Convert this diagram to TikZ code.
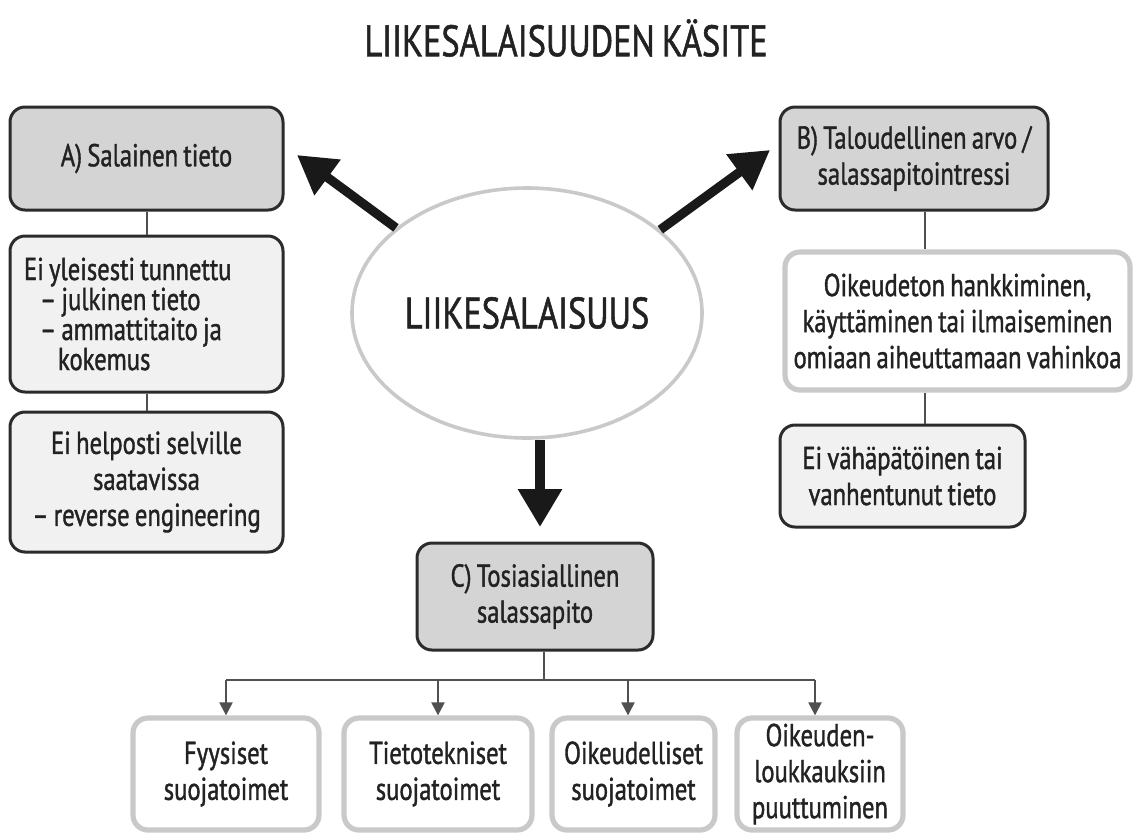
\documentclass[tikz,border=0pt]{standalone}
\usepackage{fontspec}
\setmainfont{PT Sans}[FakeStretch=0.78,FakeBold=1.2,WordSpace=0.8]
\usetikzlibrary{arrows.meta,shapes.geometric,calc}
\definecolor{txt}{HTML}{222222}
\definecolor{darkline}{HTML}{2b2b2b}
\definecolor{lightline}{HTML}{c9c9c9}
\definecolor{grayfill}{HTML}{d4d4d4}
\definecolor{palefill}{HTML}{f1f1f1}
\definecolor{connector}{HTML}{505050}
\newcommand{\boxfont}{\fontsize{15.8}{18}\selectfont}
\begin{document}
\begin{tikzpicture}[x=0.5pt,y=-0.5pt,
  basebox/.style={rounded corners=7.5pt, align=center, inner sep=0pt, font=\boxfont, text=txt},
  graybox/.style={basebox, draw=darkline, line width=1.5pt, fill=grayfill},
  palebox/.style={basebox, draw=darkline, line width=1.5pt, fill=palefill},
  whitebox/.style={basebox, draw=lightline, line width=2.6pt, fill=white},
  thinline/.style={draw=connector, line width=1pt},
  thinarrow/.style={thinline, -{Triangle[length=6.5pt,width=6.5pt]}},
  bigarrow/.style={draw=black!90, line width=4.6pt, -{Triangle[length=19pt,width=21pt]}}]
\useasboundingbox (0,0) rectangle (1133,832);

\node[font=\fontsize{22}{26}\selectfont, text=txt] (title) at (566,38) {LIIKESALAISUUDEN KÄSITE};

\node[ellipse, draw=lightline, line width=1.8pt, fill=white, minimum width=175pt, minimum height=125pt, inner sep=0pt,
      font=\fontsize{22}{26}\selectfont, text=txt] (E) at (527,313) {LIIKESALAISUUS};

% A column
\node[graybox, minimum width=136.5pt, minimum height=51.5pt] (A) at (146.5,158.5) {A) Salainen tieto};
\node[palebox, minimum width=136.5pt, minimum height=78pt, align=flush left, text width=122.5pt,
      font=\fontsize{15.8}{15}\selectfont] (A1) at (146.5,314)
  {Ei yleisesti tunnettu\\\hspace*{8pt}– julkinen tieto\\\hspace*{8pt}– ammattitaito ja\\\hspace*{17pt}kokemus};
\node[palebox, minimum width=136.5pt, minimum height=70pt] (A2) at (146.5,482)
  {Ei helposti selville\\saatavissa\\– reverse engineering};
\draw[thinline] (A.south) -- (A1.north);
\draw[thinline] (A1.south) -- (A2.north);

% B column
\node[graybox, minimum width=134pt, minimum height=51.5pt] (B) at (914,158.5) {B) Taloudellinen arvo /\\salassapitointressi};
\node[whitebox, minimum width=172.5pt, minimum height=69pt] (B1) at (957.5,321)
  {Oikeudeton hankkiminen,\\käyttäminen tai ilmaiseminen\\omiaan aiheuttamaan vahinkoa};
\node[palebox, minimum width=122.5pt, minimum height=51pt] (B2) at (902.5,476)
  {Ei vähäpätöinen tai\\vanhentunut tieto};
\coordinate (bx) at (925,0);
\draw[thinline] (B.south -| bx) -- (B1.north -| bx);
\draw[thinline] (B1.south -| bx) -- (B2.north -| bx);

% C
\node[graybox, minimum width=118pt, minimum height=53.5pt] (C) at (535,596.5) {C) Tosiasiallinen\\salassapito};

\node[whitebox, minimum width=93pt, minimum height=56pt] (D1) at (226,774) {Fyysiset\\suojatoimet};
\node[whitebox, minimum width=94pt, minimum height=56pt] (D2) at (438,774) {Tietotekniset\\suojatoimet};
\node[whitebox, minimum width=81.5pt, minimum height=56pt] (D3) at (633.5,774) {Oikeudelliset\\suojatoimet};
\node[whitebox, minimum width=83pt, minimum height=56pt] (D4) at (820,774) {Oikeuden-\\loukkauksiin\\puuttuminen};

\coordinate (cj) at (544,680);
\coordinate (h1) at (226,680);
\coordinate (h3) at (628,680);
\coordinate (h4) at (815,680);
\draw[thinline] (C.south -| cj) -- (cj);
\draw[thinline] (h1) -- (h4);
\draw[thinarrow] (h1) -- (D1.north);
\draw[thinarrow] (D2.north |- cj) -- (D2.north);
\draw[thinarrow] (h3) -- (D3.north -| h3);
\draw[thinarrow] (h4) -- (D4.north -| h4);

% big arrows
\coordinate (tipA) at (297,155);
\coordinate (tipB) at (770,150);
\coordinate (tipC) at (540,527);
\draw[bigarrow] (E.147) -- (tipA);
\draw[bigarrow] (E.32) -- (tipB);
\draw[bigarrow] (E.south -| tipC) -- (tipC);
\end{tikzpicture}
\end{document}
